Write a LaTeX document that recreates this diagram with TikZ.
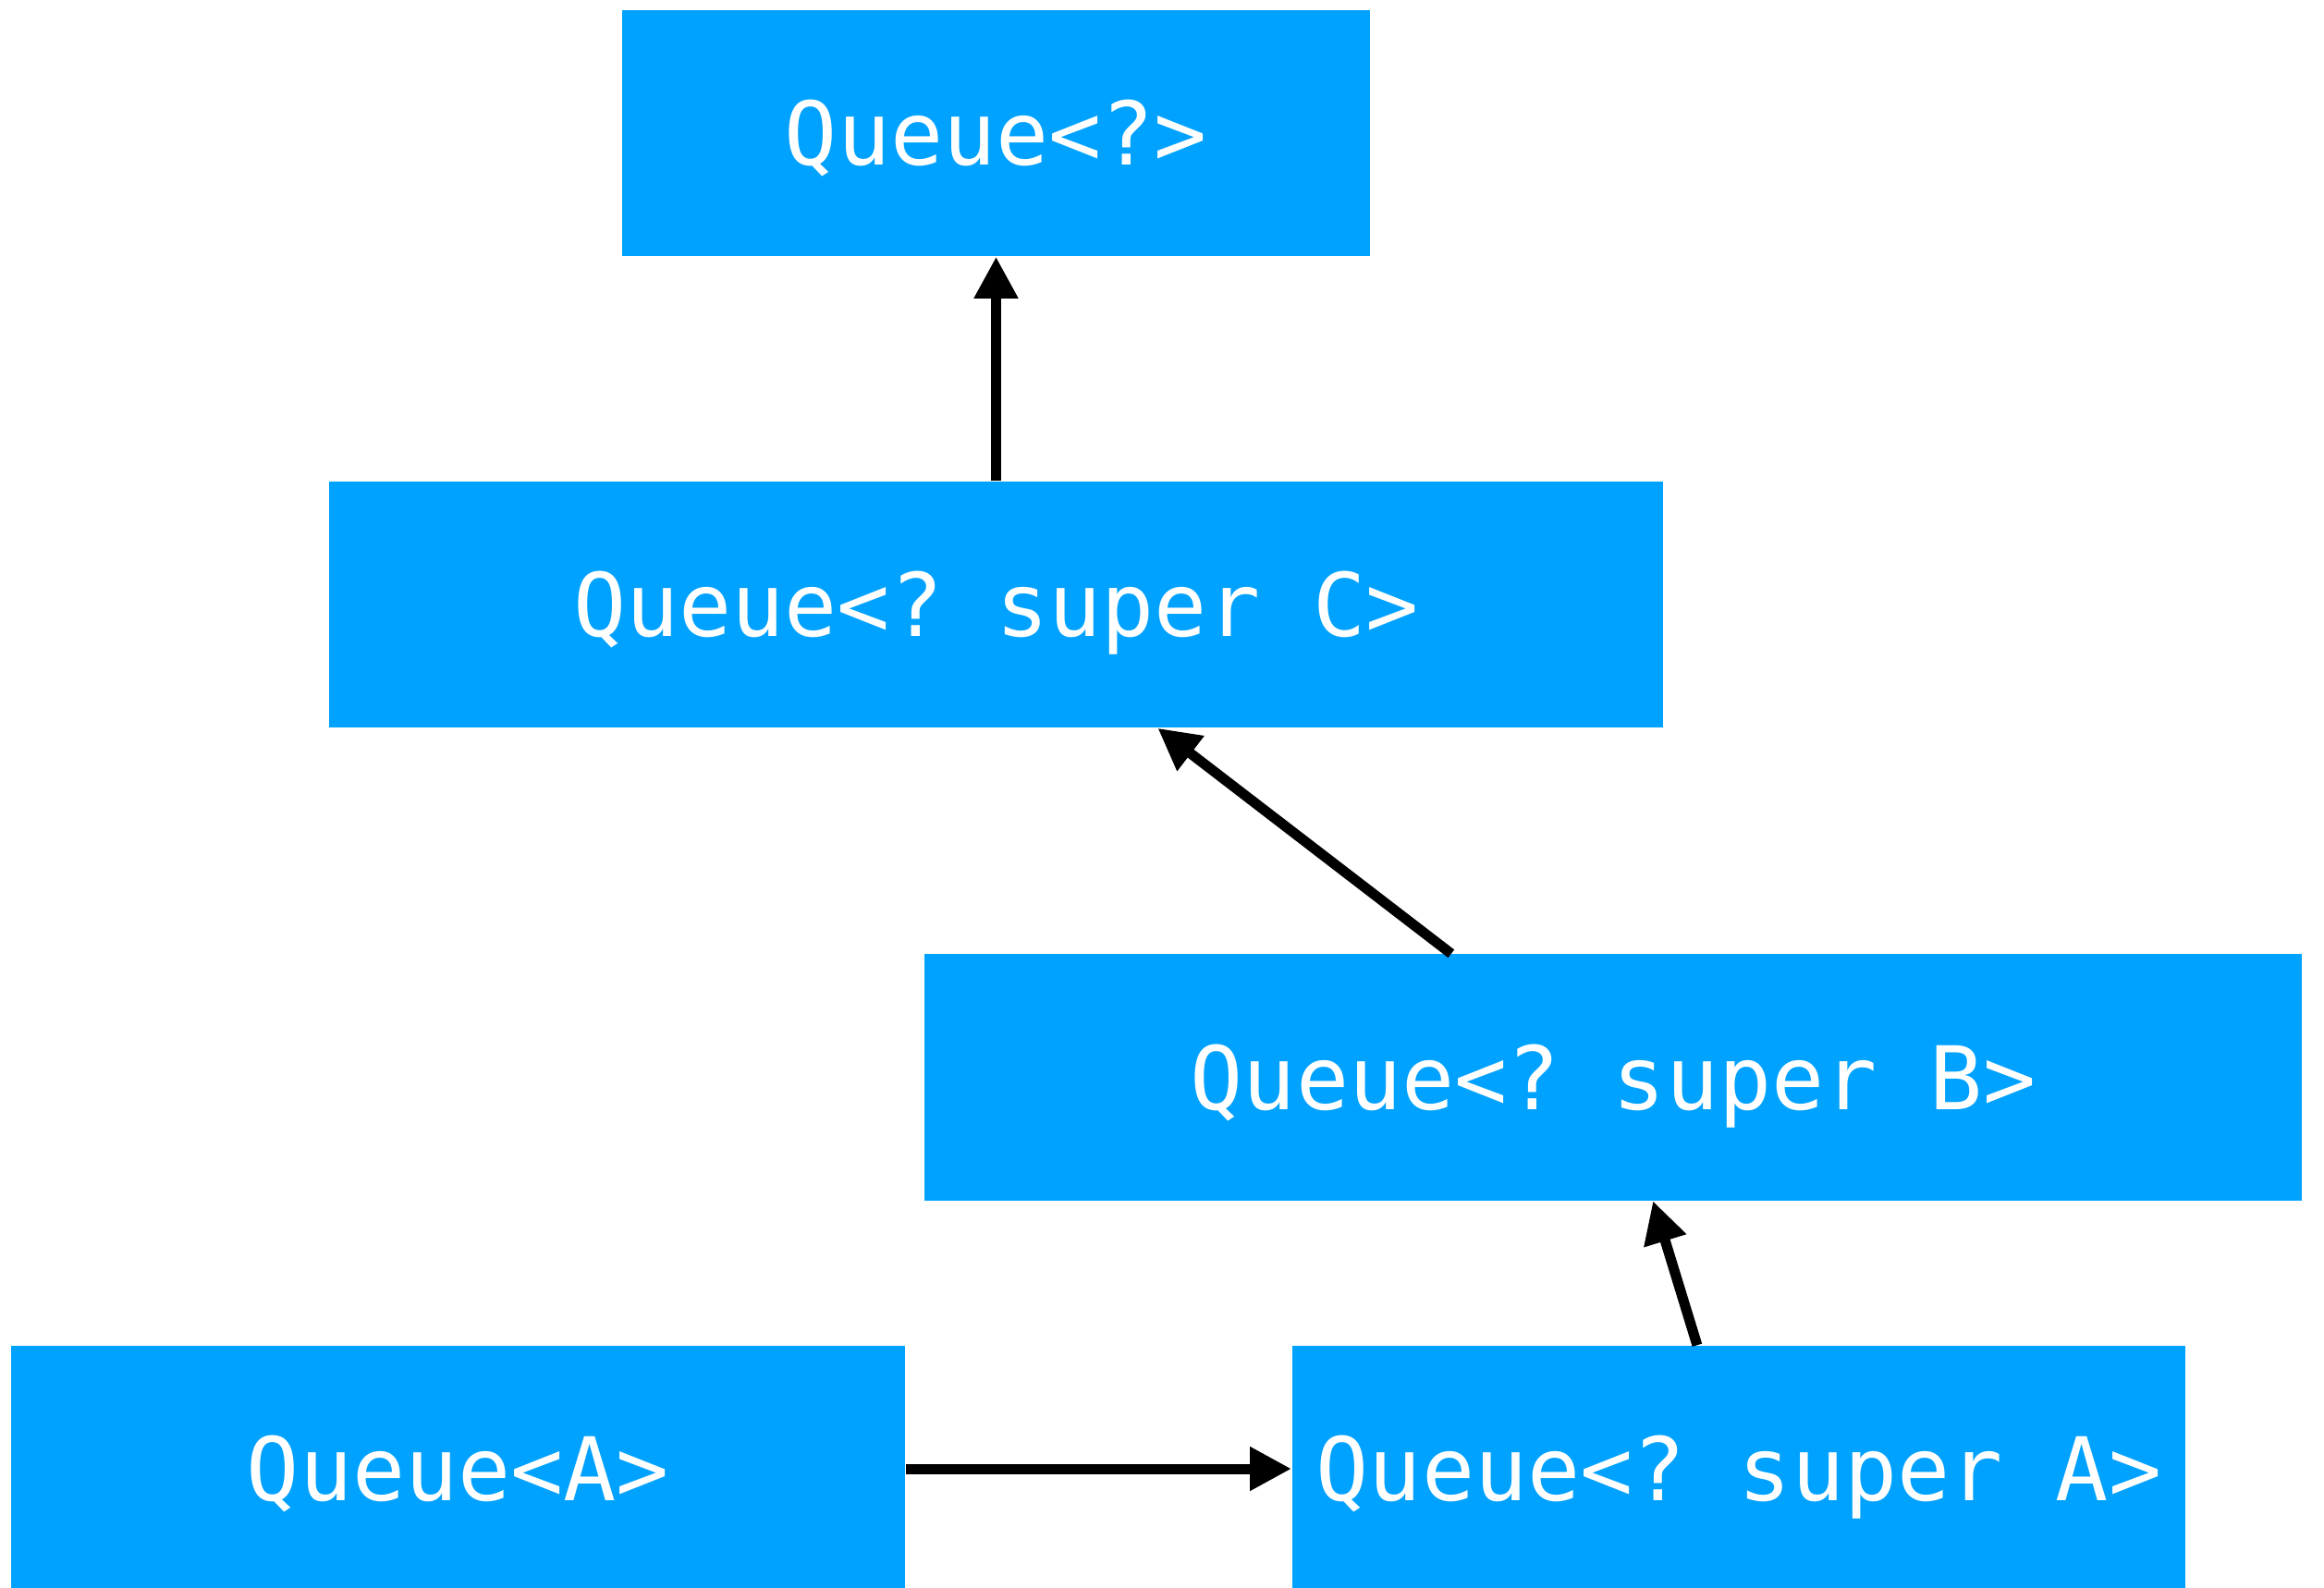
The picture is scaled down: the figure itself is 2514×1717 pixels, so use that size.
\documentclass[tikz,border=0pt]{standalone}
\usepackage{fontspec}
\setmonofont{DejaVu Sans Mono}
\usetikzlibrary{arrows.meta,calc}
\definecolor{qblue}{RGB}{0,162,255}
\tikzset{
  qbox/.style={rectangle, fill=qblue, inner sep=0pt, minimum height=2.66cm,
    text=white, font=\fontsize{27}{32}\selectfont\ttfamily,
    text height=19.7pt, text depth=0pt},
  conn/.style={line width=0.11cm, draw=black,
    -{Triangle[length=0.45cm, width=0.45cm]}}
}
\begin{document}
\begin{tikzpicture}[x=0.01cm, y=-0.01cm]
  \clip (0,0) rectangle (2514,1717);
  \fill[white] (0,0) rectangle (2514,1717);
  % type boxes
  \node[qbox, minimum width=8.09cm]  (b1) at (1077.5,144)  {Queue<?>};
  \node[qbox, minimum width=14.43cm] (b2) at (1077.5,654)  {Queue<? super C>};
  \node[qbox, minimum width=14.90cm] (b3) at (1745,1165.5) {Queue<? super B>};
  \node[qbox, minimum width=9.67cm]  (b4) at (495.5,1589)  {Queue<A>};
  \node[qbox, minimum width=9.66cm]  (b5) at (1881,1589)   {Queue<? super A>};
  % subtype relations
  \draw[conn] (b2.north) -- (b1.south);
  \draw[conn] ($(b3.north west)!0.3826!(b3.north east)$) -- ($(b2.south west)!0.621!(b2.south east)$);
  \draw[conn] ($(b5.north west)!0.4534!(b5.north east)$) -- ($(b3.south west)!0.5289!(b3.south east)$);
  \draw[conn] (b4.east) -- (b5.west);
\end{tikzpicture}
\end{document}
